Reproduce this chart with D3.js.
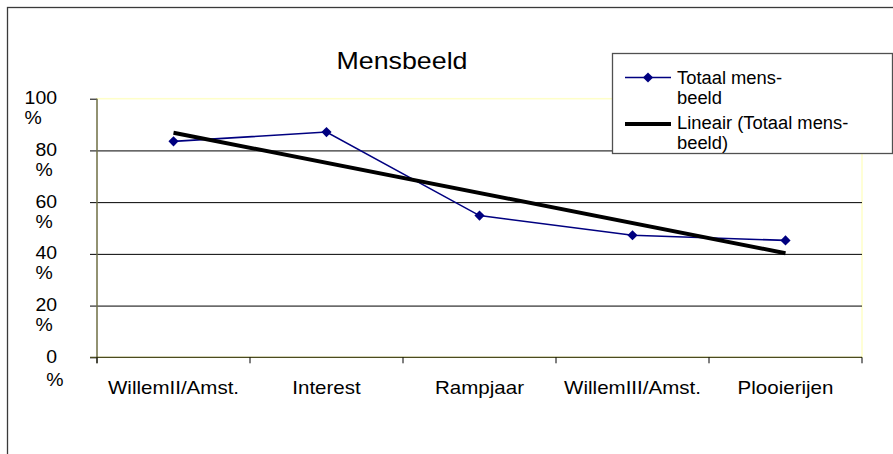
<!DOCTYPE html>
<meta charset="utf-8">
<style>
  body { margin: 0; background: #fff; }
  text { font-family: "Liberation Sans", Arial, sans-serif; fill: #000; }
  .grid line { stroke: #000; stroke-width: 1; }
  .grid path { display: none; }
</style>
<body>
<script src="https://cdnjs.cloudflare.com/ajax/libs/d3/7.8.5/d3.min.js"></script>
<script>

// chart data
var categories = ["WillemII/Amst.", "Interest", "Rampjaar", "WillemIII/Amst.", "Plooierijen"];
var values = [83.5, 87.1, 54.8, 47.2, 45.2];
var yTicks = [0, 20, 40, 60, 80, 100];
var title = "Mensbeeld";
var legendSeries = ["Totaal mens-", "beeld"];
var legendTrend = ["Lineair (Totaal mens-", "beeld)"];

var width = 893, height = 454;
var plot = {left: 97, right: 862, top: 98.7, bottom: 357.3};

// the source text is drawn a bit wider than the font
function at(px, py, sx) {
  return "translate(" + px + "," + py + ") scale(" + sx + ",1)";
}

var svg = d3.select("body")
            .append("svg")
            .attr("width", width)
            .attr("height", height);

// outer chart frame (runs off right and bottom edge)
svg.append("rect")
    .attr("x", 7.5).attr("y", 7.5)
    .attr("width", width + 20).attr("height", height + 20)
    .style("fill", "#fff")
    .style("stroke", "#3a3a3a")
    .style("stroke-width", 1.3);

var x = d3.scaleBand()
          .domain(categories)
          .range([plot.left, plot.right]);

var y = d3.scaleLinear()
          .domain([0, 100])
          .range([plot.bottom, plot.top]);

// plot area border, pale yellow
svg.append("rect")
    .attr("x", plot.left).attr("y", plot.top)
    .attr("width", plot.right - plot.left).attr("height", plot.bottom - plot.top)
    .style("fill", "#fff")
    .style("stroke", "#ffffc8")
    .style("stroke-width", 1.5);

// gridlines
svg.append("g")
    .attr("class", "grid")
    .attr("transform", "translate(" + plot.left + ",0)")
    .call(d3.axisLeft(y).tickValues(yTicks.filter(function(d) { return d > 0 && d < 100; }))
            .tickSize(-(plot.right - plot.left)).tickFormat(""));

// y axis
svg.append("g")
    .attr("transform", "translate(" + plot.left + ",0)")
    .call(d3.axisLeft(y).tickValues(yTicks).tickSize(7).tickFormat(""))
    .call(function(g) {
      g.select(".domain").remove();
      g.selectAll("line").style("stroke", "#000");
    });
svg.append("line")
    .attr("x1", plot.left).attr("x2", plot.left)
    .attr("y1", plot.top).attr("y2", plot.bottom + 6)
    .style("stroke", "#6e6e50").style("stroke-width", 1.5);

// x axis: ticks at category boundaries
var bounds = categories.map(function(c) { return x(c); }).concat([plot.right]);
svg.append("line")
    .attr("x1", plot.left - 7).attr("x2", plot.right)
    .attr("y1", plot.bottom).attr("y2", plot.bottom)
    .style("stroke", "#4a4a20").style("stroke-width", 1.3);
svg.append("g").selectAll("line")
    .data(bounds).enter().append("line")
    .attr("x1", function(d) { return d; }).attr("x2", function(d) { return d; })
    .attr("y1", plot.bottom).attr("y2", plot.bottom + 6)
    .style("stroke", "#000");

// y tick labels, wrapped "NN" / "%"
var sy = 1.08;
var yl = svg.append("g").selectAll("g")
    .data(yTicks).enter().append("g");
yl.append("text")
    .attr("class", "num")
    .attr("transform", function(d) { return at(57, y(d) + 5.5, sy); })
    .attr("text-anchor", "end")
    .style("font-size", "18px")
    .text(function(d) { return d; });
yl.append("text")
    .attr("transform", function(d) {
      var w = d3.select(this.parentNode).select(".num").node().getComputedTextLength();
      return at(57 - w * sy, y(d) + (d === 0 ? 28.5 : 25.5), sy);
    })
    .style("font-size", "18px")
    .text("%");

// x labels
svg.append("g").selectAll("text")
    .data(categories).enter().append("text")
    .attr("transform", function(d) { return at(x(d) + x.bandwidth() / 2, 393.5, 1.14); })
    .attr("text-anchor", "middle")
    .style("font-size", "18px")
    .text(function(d) { return d; });

// linear trend (least squares on category index, like Excel)
var n = values.length;
var mx = d3.mean(values, function(d, i) { return i + 1; });
var my = d3.mean(values);
var slope = d3.sum(values, function(d, i) { return (i + 1 - mx) * (d - my); }) /
            d3.sum(values, function(d, i) { return (i + 1 - mx) * (i + 1 - mx); });
var trend = values.map(function(d, i) { return my + slope * (i + 1 - mx); });

var cx = function(d, i) { return x(categories[i]) + x.bandwidth() / 2; };

svg.append("path")
    .datum(values)
    .attr("d", d3.line().x(cx).y(function(d) { return y(d); }))
    .style("fill", "none")
    .style("stroke", "#000080")
    .style("stroke-width", 1.6);

svg.append("path")
    .datum([trend[0], trend[n - 1]])
    .attr("d", d3.line()
      .x(function(d, i) { return cx(d, i === 0 ? 0 : n - 1); })
      .y(function(d) { return y(d); }))
    .style("fill", "none")
    .style("stroke", "#000")
    .style("stroke-width", 4);

var diamond = d3.symbol().type(d3.symbolDiamond2).size(66);
svg.append("g").selectAll("path")
    .data(values).enter().append("path")
    .attr("d", diamond)
    .attr("transform", function(d, i) { return "translate(" + cx(d, i) + "," + y(d) + ")"; })
    .style("fill", "#000080");

// title
svg.append("text")
    .attr("transform", at(402, 69, 1.14))
    .attr("text-anchor", "middle")
    .style("font-size", "23.5px")
    .text(title);

// legend
var sl = 1.02;
var lg = svg.append("g");
lg.append("rect")
    .attr("x", 612.5).attr("y", 53.5)
    .attr("width", 280).attr("height", 100)
    .style("fill", "#fff")
    .style("stroke", "#505050")
    .style("stroke-width", 1.3);
lg.append("line")
    .attr("x1", 625).attr("x2", 671).attr("y1", 77.5).attr("y2", 77.5)
    .style("stroke", "#000080").style("stroke-width", 1.6);
lg.append("path")
    .attr("d", diamond)
    .attr("transform", "translate(648,77.5)")
    .style("fill", "#000080");
lg.append("line")
    .attr("x1", 625).attr("x2", 671).attr("y1", 124).attr("y2", 124)
    .style("stroke", "#000").style("stroke-width", 4);
lg.selectAll(".ls")
    .data(legendSeries).enter().append("text")
    .attr("transform", function(d, i) { return at(677, 83.5 + i * 20, sl); })
    .style("font-size", "18px")
    .text(function(d) { return d; });
lg.selectAll(".lt")
    .data(legendTrend).enter().append("text")
    .attr("transform", function(d, i) { return at(677, 128.5 + i * 20, sl); })
    .style("font-size", "18px")
    .text(function(d) { return d; });

</script>
</body>
</html>
